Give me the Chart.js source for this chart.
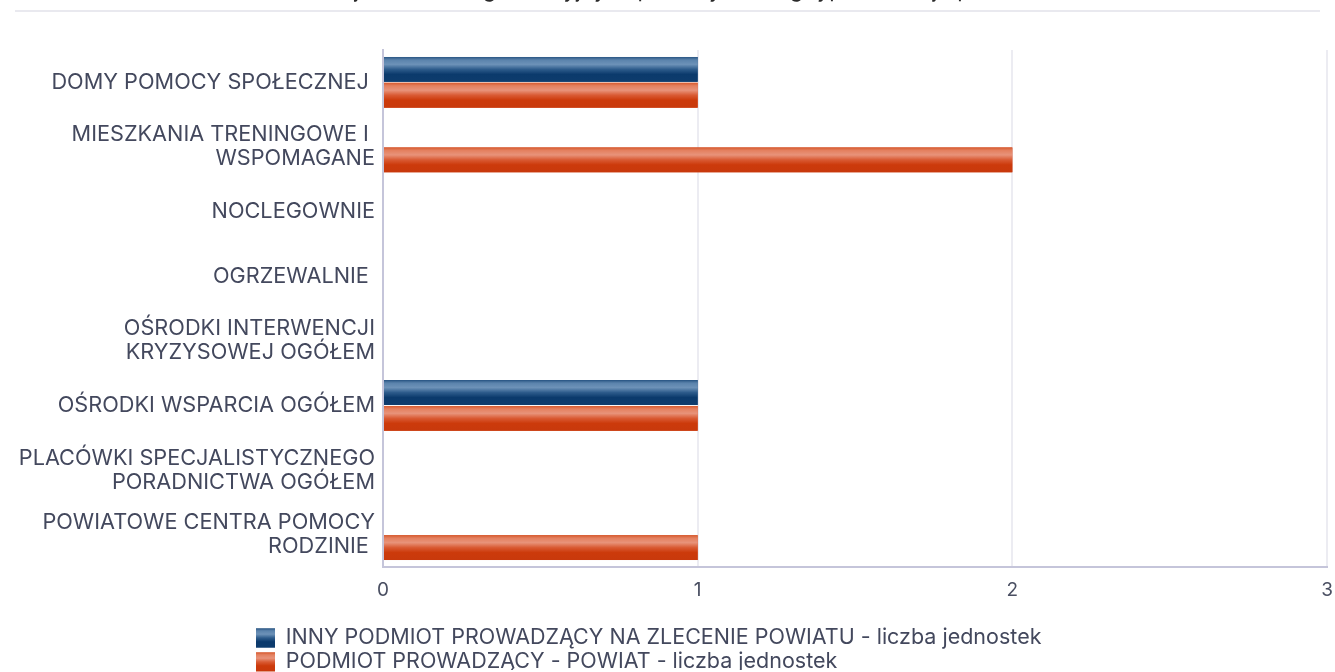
<!DOCTYPE html>
<html><head><meta charset="utf-8">
<script src="https://cdn.jsdelivr.net/npm/chart.js@4/dist/chart.umd.min.js"></script>
<style>
html,body{margin:0;padding:0;background:#fff;overflow:hidden;width:1335px;height:672px}
#wrap{position:absolute;left:0;top:-23px;width:1335px;height:695px}
#rule{position:absolute;left:15px;top:10px;width:1305px;height:2px;background:#e9e9ef}
</style></head><body>
<div id="wrap"><canvas id="c"></canvas></div>
<div id="rule"></div>
<script>
const titleText = "Liczba jednostek organizacyjnych pomocy według typu i rodzaju podmiotu";
const categories = [
  ["DOMY POMOCY SPOŁECZNEJ "],
  ["MIESZKANIA TRENINGOWE I ", "WSPOMAGANE"],
  ["NOCLEGOWNIE"],
  ["OGRZEWALNIE "],
  ["OŚRODKI INTERWENCJI", "KRYZYSOWEJ OGÓŁEM"],
  ["OŚRODKI WSPARCIA OGÓŁEM"],
  ["PLACÓWKI SPECJALISTYCZNEGO", "PORADNICTWA OGÓŁEM"],
  ["POWIATOWE CENTRA POMOCY", "RODZINIE "]
];
const seriesNames = [
  "INNY PODMIOT PROWADZĄCY NA ZLECENIE POWIATU - liczba jednostek",
  "PODMIOT PROWADZĄCY - POWIAT - liczba jednostek"
];
const innyPodmiot = [1, 0, 0, 0, 0, 1, 0, 0];
const powiat      = [1, 2, 0, 0, 0, 1, 0, 1];
const xTicks = [0, 1, 2, 3];

const OFF = 23;               // canvas shifted up by this many px (title clipped)
const FONT = "Inter, 'Open Sans', sans-serif";
const TEXT = "#43485d";
const baseColors = ["#1b4a7c", "#d4441a"];
const gradStops = [
  [[0,"#2a5684"],[0.12,"#5b83ac"],[0.3,"#6d92b8"],[0.5,"#2d5b8b"],[0.7,"#0b3a6c"],[1,"#0e3c6d"]],
  [[0,"#d65a2e"],[0.12,"#e4805f"],[0.3,"#e8937a"],[0.5,"#d95a33"],[0.7,"#cc3a0b"],[1,"#c8390c"]]
];

function fillGrad(ctx, x, y, w, h, stops) {
  const g = ctx.createLinearGradient(0, y, 0, y + h);
  stops.forEach(s => g.addColorStop(s[0], s[1]));
  ctx.fillStyle = g;
  ctx.fillRect(x, y, w, h);
}

const LEG_FONT = 21.5, LEG_PAD = 2.5, LEG_BOX = 19;

const shadePlugin = {
  id: "shade",
  afterLayout(chart) {
    const lg = chart.legend;
    lg.left = 256 - LEG_PAD;
    lg.top = 638 + OFF - LEG_PAD - LEG_FONT / 2;
  },
  afterDatasetsDraw(chart) {
    const ctx = chart.ctx, a = chart.chartArea;
    ctx.save();
    ctx.beginPath(); ctx.rect(a.left, a.top, a.right - a.left, a.bottom - a.top); ctx.clip();
    chart.data.datasets.forEach((ds, di) => {
      const meta = chart.getDatasetMeta(di);
      meta.data.forEach(el => {
        const p = el.getProps(["x", "y", "base", "height"], true);
        const w = Math.abs(p.x - p.base);
        if (w < 0.5) return;
        fillGrad(ctx, Math.min(p.x, p.base), p.y - p.height / 2, w, p.height, gradStops[di]);
      });
    });
    ctx.restore();
  },
  afterDraw(chart) {
    const lg = chart.legend;
    const ctx = chart.ctx;
    const itemH = Math.max(LEG_FONT, LEG_BOX);
    chart.data.datasets.forEach((ds, i) => {
      const y = lg.top + LEG_PAD + i * (itemH + LEG_PAD) + (itemH - LEG_BOX) / 2;
      fillGrad(ctx, lg.left + LEG_PAD, y, LEG_BOX, LEG_BOX, gradStops[i]);
    });
  }
};

new Chart(document.getElementById("c"), {
  type: "bar",
  data: {
    labels: categories,
    datasets: [
      { label: seriesNames[0], data: innyPodmiot, backgroundColor: baseColors[0], borderWidth: 0 },
      { label: seriesNames[1], data: powiat, backgroundColor: baseColors[1], borderWidth: 0 }
    ]
  },
  options: {
    indexAxis: "y",
    responsive: true,
    maintainAspectRatio: false,
    animation: false,
    categoryPercentage: 0.8,
    barPercentage: 0.96,
    layout: { padding: { left: 0, right: 0, top: 0, bottom: 2 } },
    plugins: {
      tooltip: { enabled: false },
      title: {
        display: true, text: titleText, color: "#2a2a2a",
        font: { family: FONT, size: 22, weight: "normal", lineHeight: 1.2 },
        padding: { top: 0, bottom: 50 + OFF - 26.4 }
      },
      legend: {
        position: "bottom", align: "start", maxHeight: 48,
        labels: {
          boxWidth: LEG_BOX, boxHeight: LEG_BOX, padding: LEG_PAD, color: TEXT,
          font: { family: FONT, size: LEG_FONT }
        }
      }
    },
    scales: {
      x: {
        min: 0, max: 3,
        afterFit(s) {
          s.height = s.chart.height - 2 - s.chart.legend.height - (567 + OFF);
          s.paddingRight = 8; s.paddingLeft = 0;
        },
        afterBuildTicks(s) { s.ticks = xTicks.map(v => ({ value: v })); },
        grid: { color: "#ececf2", lineWidth: 2, drawTicks: false },
        border: { color: "#c5c5da", width: 2 },
        ticks: { color: "#4a4f62", padding: 12, font: { family: FONT, size: 19 } }
      },
      y: {
        afterFit(s) { s.width = 383; },
        grid: { display: false, drawTicks: false },
        border: { color: "#c5c5da", width: 2 },
        ticks: { color: TEXT, padding: 8, autoSkip: false, font: { family: FONT, size: 21.7, lineHeight: 1.106 } }
      }
    }
  },
  plugins: [shadePlugin]
});
</script>
</body></html>
